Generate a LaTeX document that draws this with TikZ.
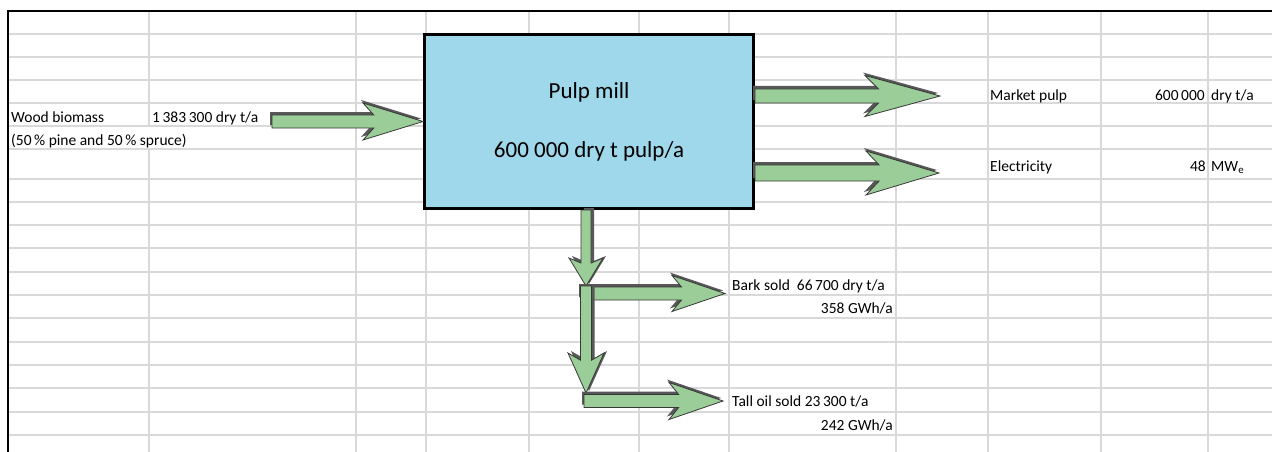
\documentclass[tikz,border=0pt]{standalone}
\usepackage{fontspec}
\setmainfont{Carlito}
\usetikzlibrary{calc}
\definecolor{cGrid}{HTML}{D9D9D9}
\definecolor{cMill}{HTML}{9FD8EA}
\definecolor{cFlow}{HTML}{9ACD97}
\definecolor{cEdge}{HTML}{383838}
\definecolor{cShade}{HTML}{585858}

% fat flow arrow: #1 from, #2 to, #3 shaft half width, #4 head half width, #5 head length, #6 style
\newcommand{\flowpath}[6]{%
  \path[#6] ($(#1)!#3pt!90:(#2)$) -- ($(#2)!\flowjoin pt!(#1)!#3pt!-90:(#1)$)
    -- ($(#2)!#5pt!(#1)!#4pt!-90:(#1)$) -- (#2)
    -- ($(#2)!#5pt!(#1)!#4pt!90:(#1)$) -- ($(#2)!\flowjoin pt!(#1)!#3pt!90:(#1)$)
    -- ($(#1)!#3pt!-90:(#2)$) -- cycle;}
\newcommand{\flowarrow}[5]{%
  \pgfmathsetmacro\flowjoin{0.82*#5}%
  \coordinate (fs) at ($(#1)!-2pt!(#2)!3pt!90:(#2)$);
  \coordinate (ft) at ($(#2)!2pt!(#1)!3pt!-90:(#1)$);
  \flowpath{fs}{ft}{#3}{#4}{#5}{flowshade}
  \flowpath{#1}{#2}{#3}{#4}{#5}{flow}}

\begin{document}
\begin{tikzpicture}[x=1pt, y=-1pt,
  every node/.style={inner sep=0pt, font=\fontsize{15.5}{18}\selectfont},
  cell/.style={anchor=base west},
  cellr/.style={anchor=base east},
  millbox/.style={draw=black, line width=3pt, fill=cMill, minimum width=329pt, minimum height=174pt,
    align=center, font=\fontsize{23}{29.5}\selectfont},
  gridline/.style={draw=cGrid, line width=1.3pt},
  sheet/.style={draw=black, line width=2pt},
  flow/.style={fill=cFlow, draw=cEdge, line width=0.8pt},
  flowshade/.style={fill=cShade}]
\useasboundingbox (0,0) rectangle (1272,452);

% worksheet grid
\foreach \gx in {356,426,529,639,729,896,988,1101,1208}
  \draw[gridline] (\gx,11) -- (\gx,452);
\draw[gridline] (149,11) -- (149,126) (149,149) -- (149,452);
\foreach \gy in {34,57,80,103,126,149,179,202,225,248,272,295,318,342,365,388,412,435}
  \draw[gridline] (8,\gy) -- (1272,\gy);
\draw[sheet] (8,452) -- (8,11) -- (1272,11);

% cells
\node[cell] (wood) at (11,122) {Wood biomass};
\node[cell] (woodamt) at (152,122) {1\,383\,300 dry t/a};
\node[cell] (woodmix) at (11,145.5) {(50\,\% pine and 50\,\% spruce)};
\node[cell] (pulp) at (990,100.5) {Market pulp};
\node[cellr] (pulpamt) at (1205,100.5) {600\,000};
\node[cell] (pulpunit) at (1211,100.5) {dry t/a};
\node[cell] (elec) at (990,171.5) {Electricity};
\node[cellr] (elecamt) at (1206,171.5) {48};
\node[cell] (elecunit) at (1211,171.5) {MW\textsubscript{e}};
\node[cell] (bark) at (732,290.5) {Bark sold\ \ 66\,700 dry t/a};
\node[cellr] (barkgwh) at (893,313.5) {358 GWh/a};
\node[cell] (oil) at (732,406.5) {Tall oil sold 23\,300 t/a};
\node[cellr] (oilgwh) at (893,430) {242 GWh/a};

% the mill
\node[millbox] (mill) at (589,121.5) {Pulp mill\\[29.5pt]600 000 dry t pulp/a};

% flows
\coordinate (woodtail) at ($(mill.west)+(-151,0)$);
\coordinate (pulpto) at (940,96);
\coordinate (electo) at (939,173);
\coordinate (split1) at (586,286);
\coordinate (split2) at (586,393);
\coordinate (barkfork) at (581,293.5);
\coordinate (barkend) at (725,293.5);
\coordinate (oilfork) at (584,401);
\coordinate (oilend) at (723,401);
\flowarrow{woodtail}{mill.west}{6.5}{18.5}{60}
\flowarrow{mill.east |- pulpto}{pulpto}{7}{20.5}{75}
\flowarrow{mill.east |- electo}{electo}{8}{22}{73}
\flowarrow{mill.south -| split1}{split1}{5}{17}{28}
\flowarrow{barkfork}{barkend}{6.5}{18}{53}
\flowarrow{split1}{split2}{5.5}{18}{40}
\flowarrow{oilfork}{oilend}{6.5}{18.5}{54}
\end{tikzpicture}
\end{document}
